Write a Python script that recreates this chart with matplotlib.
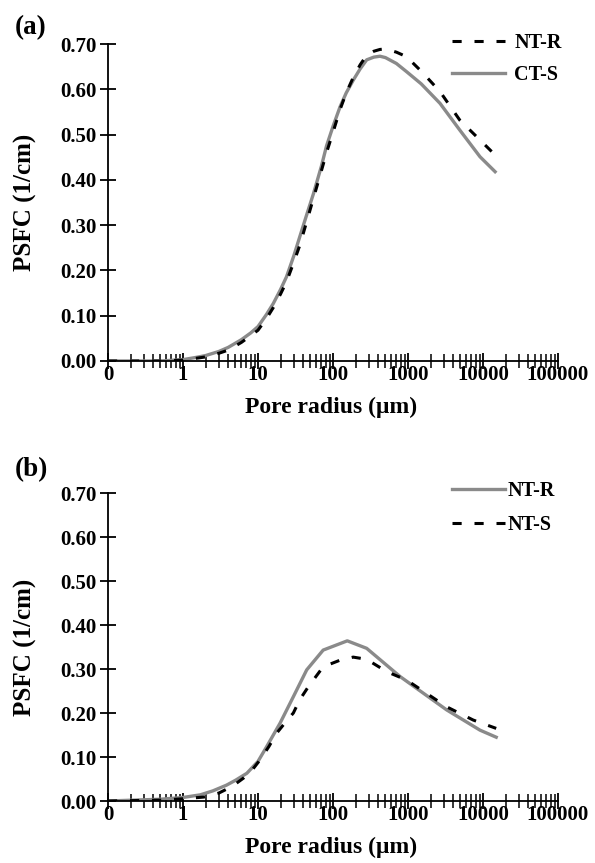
import matplotlib
matplotlib.use('Agg')
import matplotlib.pyplot as plt
from matplotlib.ticker import FixedLocator, FuncFormatter, LogLocator

# panel (a)
rad_a = [0.1, 0.5, 1, 1.5, 2, 3, 4, 6, 8, 10, 13, 16, 20, 24, 30, 36, 45, 55,
         70, 82, 100, 124, 150, 186, 230, 281, 350, 423, 500, 700, 955,
         1500, 2670, 4900, 9120, 14500]
ntr_a = [0.0, 0.0, 0.002, 0.006, 0.009, 0.017, 0.024, 0.041, 0.056, 0.068,
         0.094, 0.118, 0.148, 0.175, 0.218, 0.255, 0.31, 0.36, 0.42, 0.46,
         0.505, 0.555, 0.592, 0.626, 0.654, 0.675, 0.684, 0.688, 0.689, 0.682,
         0.672, 0.64, 0.595, 0.532, 0.488, 0.455]
cts_a = [0.0, 0.0, 0.003, 0.008, 0.012, 0.021, 0.03, 0.047, 0.062, 0.076,
         0.103, 0.127, 0.158, 0.186, 0.232, 0.274, 0.325, 0.37, 0.43, 0.475,
         0.518, 0.561, 0.592, 0.62, 0.645, 0.665, 0.671, 0.673, 0.67, 0.657,
         0.639, 0.612, 0.569, 0.51, 0.451, 0.418]

# panel (b)
rad_b = [0.1, 0.5, 1, 1.7, 2.5, 3.8, 5, 7.1, 10, 13, 19.7, 29.6, 44.6, 74,
         155, 281, 782, 3280, 9120, 15000]
ntr_b = [0.0, 0.004, 0.008, 0.014, 0.023, 0.036, 0.047, 0.063, 0.09, 0.123,
         0.177, 0.237, 0.298, 0.343, 0.364, 0.347, 0.283, 0.207, 0.161, 0.145]
rad_bs = [0.1, 0.5, 1, 1.9, 3, 4.5, 6.4, 8.5, 10.6, 14, 17.7, 23, 29.6, 36,
          47, 74, 124, 186, 281, 520, 955, 3280, 7400, 15000]
nts_b = [0.0, 0.002, 0.005, 0.009, 0.018, 0.033, 0.052, 0.072, 0.093, 0.124,
         0.154, 0.178, 0.2, 0.23, 0.26, 0.305, 0.32, 0.327, 0.322, 0.294,
         0.275, 0.214, 0.184, 0.165]

yticks = [0.0, 0.1, 0.2, 0.3, 0.4, 0.5, 0.6, 0.7]
xticks = [0.1, 1, 10, 100, 1000, 10000, 100000]
xlabels = ['0', '1', '10', '100', '1000', '10000', '100000']

GRAY = '#8a8a8a'
DASH = (0, (3.0, 4.2))
plt.rcParams['font.family'] = ['Liberation Serif', 'DejaVu Serif']
plt.rcParams['font.weight'] = 'bold'

W, H = 595, 863
fig = plt.figure(figsize=(W / 100, H / 100), dpi=100)


def setup(ax, tag, top, hpx):
    ax.set_xscale('log')
    ax.set_xlim(0.1, 100000)
    ax.set_ylim(0, 0.70)
    ax.spines['top'].set_visible(False)
    ax.spines['right'].set_visible(False)
    for s in ('left', 'bottom'):
        ax.spines[s].set_linewidth(1.3)
    ax.xaxis.set_major_locator(FixedLocator(xticks))
    ax.xaxis.set_major_formatter(FuncFormatter(lambda v, p: xlabels[xticks.index(v)] if v in xticks else ''))
    ax.xaxis.set_minor_locator(LogLocator(base=10, subs=range(2, 10), numticks=20))
    ax.xaxis.set_minor_formatter(FuncFormatter(lambda v, p: ''))
    ax.set_yticks(yticks)
    ax.yaxis.set_major_formatter(FuncFormatter(lambda v, p: '%.2f' % v))
    ax.tick_params(axis='both', which='major', direction='inout', length=11,
                   width=1.3, labelsize=15)
    ax.tick_params(axis='x', which='major', pad=-2.5)
    ax.tick_params(axis='y', which='major', pad=2.5)
    ax.tick_params(axis='x', which='minor', direction='inout', length=10, width=1.1)
    ax.set_xlabel('Pore radius (μm)', fontsize=17, fontweight='bold')
    ax.set_ylabel('PSFC (1/cm)', fontsize=18, fontweight='bold')
    ax.xaxis.set_label_coords(0.495, -36 / hpx)
    ax.yaxis.set_label_coords(-71 / 450, 0.5)
    fig.text(15 / W, 1 - top / H, tag, fontsize=19.5, fontweight='bold', va='center')


ax1 = fig.add_axes([108 / W, 1 - 361 / H, 450 / W, 317 / H])
g1, = ax1.plot(rad_a, cts_a, color=GRAY, lw=2.4, label='CT-S')
k1, = ax1.plot(rad_a, ntr_a, color='black', lw=2.2, ls=DASH, label='NT-R')
setup(ax1, '(a)', 28, 317)
fig.legend(handles=[k1, g1], loc='upper left', bbox_to_anchor=(452 / W, 1 - 33 / H),
           frameon=False, fontsize=14.5, handlelength=2.65, handletextpad=0.45,
           labelspacing=0.6, borderpad=0, borderaxespad=0)

ax2 = fig.add_axes([108 / W, 1 - 801 / H, 450 / W, 308 / H])
g2, = ax2.plot(rad_b, ntr_b, color=GRAY, lw=2.4, label='NT-R')
k2, = ax2.plot(rad_bs, nts_b, color='black', lw=2.2, ls=DASH, label='NT-S')
setup(ax2, '(b)', 470, 308)
fig.legend(handles=[g2, k2], loc='upper left', bbox_to_anchor=(452 / W, 1 - 481 / H),
           frameon=False, fontsize=14.5, handlelength=2.65, handletextpad=0.1,
           labelspacing=0.7, borderpad=0, borderaxespad=0)

fig.savefig('out.png', dpi=100)
